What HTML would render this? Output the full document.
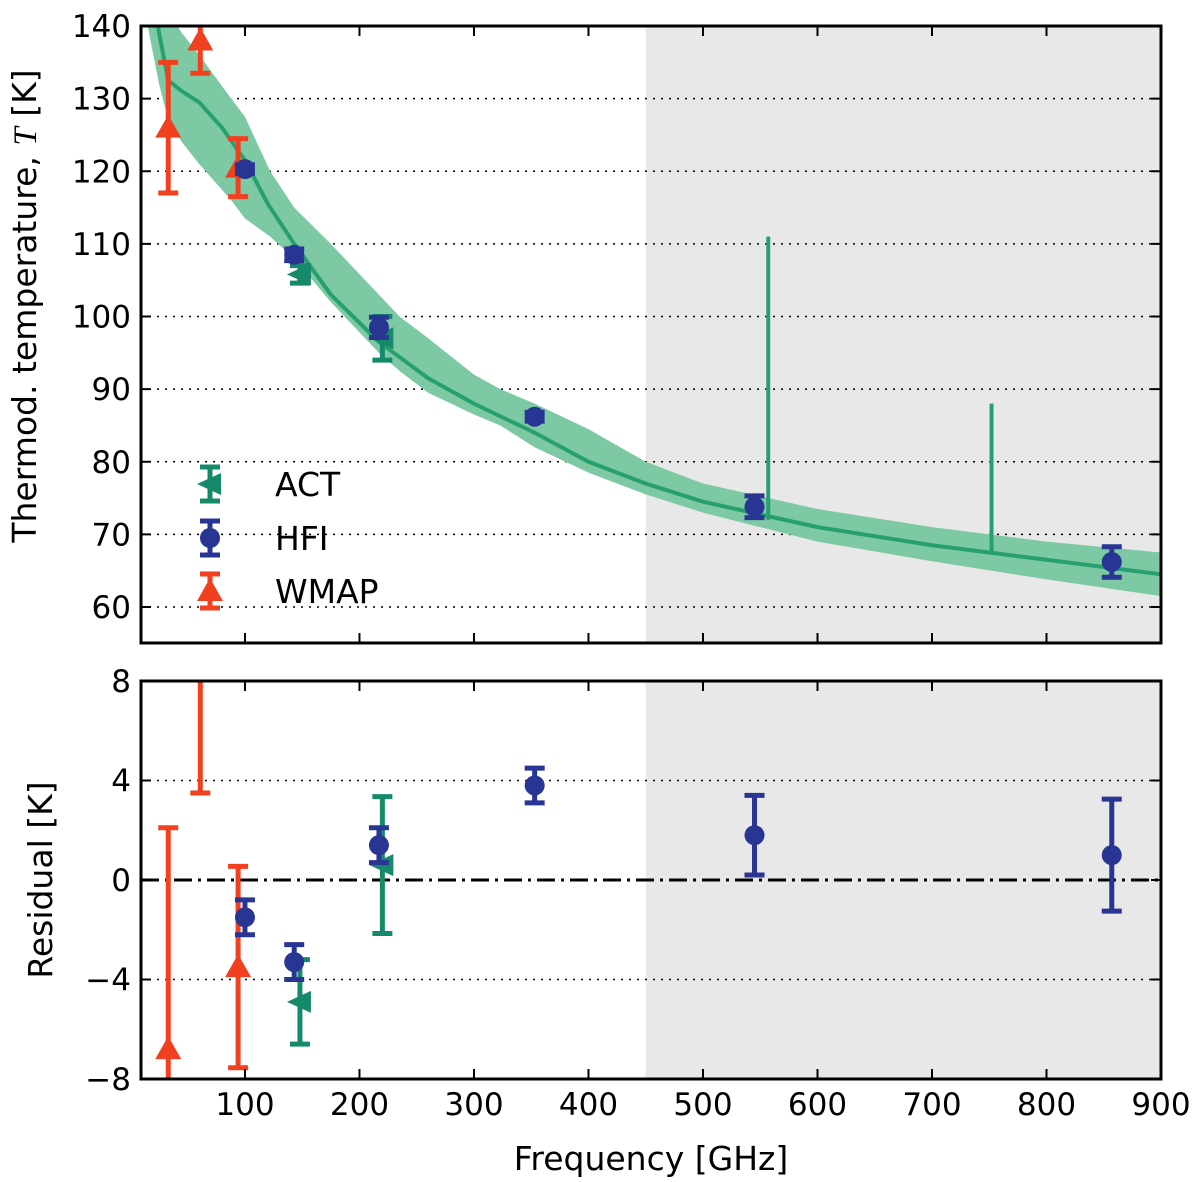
<!DOCTYPE html>
<html><head><meta charset="utf-8"><style>
html,body{margin:0;background:#fff;overflow:hidden;width:1200px;height:1182px}
svg{display:block;font-family:"DejaVu Sans","Liberation Sans",sans-serif}
</style></head><body>
<svg id="c" width="1200" height="1182" xmlns="http://www.w3.org/2000/svg"></svg>
<script>
const modelF=[15,25,33,45,60,80,100,120,143,175,217,260,300,353,400,450,500,600,700,800,900];
const modelT=[150,139,132.5,131,129.5,126,121.5,115.5,110,103,96.5,91.5,88,84,80,77,74.5,71,68.5,66.5,64.5];
const bandF=[15,25,33,45,60,88,100,122,143,175,217,235,260,300,323,353,400,450,500,600,700,800,900];
const bandHi=[152,146,142,139,136,130,127.5,120,115,110,103,100,97,92,90,88,84.5,80,77,73.5,71,69,67.5];
const bandLo=[140,132,127,124,121,116,113.5,111,108,102,95,92.5,89.5,86.5,85,82,78.5,75.5,73,69,66.3,63.8,61.5];
const spikeF=[557,752];const spikeT=[111,88];
const wmapF=[33,61,94];const wmapT=[126,138,120.5];const wmapE=[9,4.5,4];
const wmapR=[-6.8,12,-3.5];const wmapRE=[8.9,8.5,4.05];
const hfiF=[100,143,217,353,545,857];const hfiT=[120.3,108.5,98.5,86.2,73.8,66.2];const hfiE=[0.6,0.8,1.4,0.6,1.5,2.1];
const hfiR=[-1.5,-3.3,1.4,3.8,1.8,1.0];const hfiRE=[0.7,0.7,0.7,0.7,1.6,2.25];
const actF=[148,220];const actT=[105.8,97];const actE=[1.2,3];
const actR=[-4.9,0.6];const actRE=[1.7,2.75];
const xTicks=[100,200,300,400,500,600,700,800,900];
const yTicksTop=[60,70,80,90,100,110,120,130,140];
const yTicksBot=[-8,-4,0,4,8];
const yTicksBotLbl=["\u22128","\u22124","0","4","8"];

const svg=document.getElementById('c');const NS='http://www.w3.org/2000/svg';
function el(t,a,p){const e=document.createElementNS(NS,t);for(const k in a)e.setAttribute(k,a[k]);(p||svg).appendChild(e);return e;}
const L=141,R=1161,T1=26,B1=643,T2=681,B2=1079;
const X=f=>L+(f-9.2)*(R-L)/(900-9.2);
const Y1=v=>T1+(140-v)*(607-26)/80;
const Y2=v=>T2+(8-v)*(B2-T2)/16;
const defs=el('defs',{});
const cp1=el('clipPath',{id:'cp1'},defs);el('rect',{x:L,y:T1,width:R-L,height:B1-T1},cp1);
const cp2=el('clipPath',{id:'cp2'},defs);el('rect',{x:L,y:T2,width:R-L,height:B2-T2},cp2);
const RED='#f0401f',BLUE='#283593',GREEN='#16896a';

function panel(T,B,cp,name){
  const g=el('g',{'clip-path':'url(#'+cp+')'});
  let s=el('rect',{x:X(450),y:T,width:R-X(450),height:B-T,fill:'#e8e8e8'},g);
  
  
  return g;
}
const g1=panel(T1,B1,'cp1','top');const g2=panel(T2,B2,'cp2','bottom');
yTicksTop.forEach(v=>{if(v<140){const l=el('line',{x1:L,x2:R,y1:Y1(v),y2:Y1(v),stroke:'#000','stroke-width':1.5,'stroke-dasharray':'2,6'},g1);}});
yTicksBot.forEach(v=>{if(v!=0&&Math.abs(v)<8){const l=el('line',{x1:L,x2:R,y1:Y2(v),y2:Y2(v),stroke:'#000','stroke-width':1.5,'stroke-dasharray':'2,6'},g2);}});
let z=el('line',{x1:L,x2:R,y1:Y2(0),y2:Y2(0),stroke:'#000','stroke-width':3,'stroke-dasharray':'18,6,3,6'},g2);

let d='M'+bandF.map((f,i)=>X(f)+','+Y1(bandHi[i])).join('L');
for(let i=bandF.length-1;i>=0;i--)d+='L'+X(bandF[i])+','+Y1(bandLo[i]);
let band=el('path',{d:d+'Z',fill:'#7cc9a4'},g1);

let ml=el('path',{d:'M'+modelF.map((f,i)=>X(f)+','+Y1(modelT[i])).join('L'),fill:'none',stroke:'#27a06f','stroke-width':4,'stroke-linejoin':'round'},g1);

spikeF.forEach((f,i)=>{let base=modelT[modelF.findIndex(q=>q>f)]+1;
  let s=el('line',{x1:X(f),x2:X(f),y1:Y1(base),y2:Y1(spikeT[i]),stroke:'#27a06f','stroke-width':4},g1);
  });
function eb(g,x,y0,y1,c){
  el('line',{x1:x,x2:x,y1:y0,y2:y1,stroke:c,'stroke-width':5},g);
  el('line',{x1:x-10,x2:x+10,y1:y0,y2:y0,stroke:c,'stroke-width':5},g);
  el('line',{x1:x-10,x2:x+10,y1:y1,y2:y1,stroke:c,'stroke-width':5},g);
}
function marker(g,kind,x,y,c){
  if(kind=='tri')return el('path',{d:`M${x},${y-13}L${x+13},${y+10}L${x-13},${y+10}Z`,fill:c},g);
  if(kind=='circ')return el('circle',{cx:x,cy:y,r:10,fill:c},g);
  return el('path',{d:`M${x-13},${y}L${x+11},${y-11}L${x+11},${y+11}Z`,fill:c},g);
}
function series(g,F,V,E,Yf,c,kind,name){
  F.forEach((f,i)=>{const gg=el('g',{},g);
    
    
    eb(gg,X(f),Yf(V[i]+E[i]),Yf(V[i]-E[i]),c);marker(gg,kind,X(f),Yf(V[i]),c);});
}
series(g1,wmapF,wmapT,wmapE,Y1,RED,'tri','wmap');
series(g1,actF,actT,actE,Y1,GREEN,'act','act');
series(g1,hfiF,hfiT,hfiE,Y1,BLUE,'circ','hfi');
series(g2,wmapF,wmapR,wmapRE,Y2,RED,'tri','wmap-residual');
series(g2,actF,actR,actRE,Y2,GREEN,'act','act-residual');
series(g2,hfiF,hfiR,hfiRE,Y2,BLUE,'circ','hfi-residual');
[[T1,B1,'top'],[T2,B2,'bottom']].forEach(([T,B,n])=>{let r=el('rect',{x:L,y:T,width:R-L,height:B-T,fill:'none',stroke:'#000','stroke-width':3});
 
 xTicks.forEach(f=>{el('line',{x1:X(f),x2:X(f),y1:B,y2:B-10,stroke:'#000','stroke-width':2});el('line',{x1:X(f),x2:X(f),y1:T,y2:T+10,stroke:'#000','stroke-width':2});});});
yTicksTop.forEach(v=>{el('line',{x1:L,x2:L+10,y1:Y1(v),y2:Y1(v),stroke:'#000','stroke-width':2});el('line',{x1:R,x2:R-10,y1:Y1(v),y2:Y1(v),stroke:'#000','stroke-width':2});
 let t=el('text',{x:L-10,y:Y1(v)+11,'text-anchor':'end','font-size':31});t.textContent=v;
 });
yTicksBot.forEach((v,i)=>{el('line',{x1:L,x2:L+10,y1:Y2(v),y2:Y2(v),stroke:'#000','stroke-width':2});el('line',{x1:R,x2:R-10,y1:Y2(v),y2:Y2(v),stroke:'#000','stroke-width':2});
 let t=el('text',{x:L-10,y:Y2(v)+11,'text-anchor':'end','font-size':31});t.textContent=yTicksBotLbl[i];
 });
xTicks.forEach(f=>{let t=el('text',{x:X(f),y:B2+36,'text-anchor':'middle','font-size':31});t.textContent=f;
 });
let xl=el('text',{x:651,y:1170,'text-anchor':'middle','font-size':33});xl.textContent='Frequency [GHz]';

let yl=el('text',{x:0,y:0,'text-anchor':'middle','font-size':33,transform:'translate(36,306) rotate(-90)'});
yl.innerHTML='Thermod. temperature, <tspan font-family="Liberation Serif" font-style="italic">T</tspan> [K]';

let rl=el('text',{x:0,y:0,'text-anchor':'middle','font-size':33,transform:'translate(52,880) rotate(-90)'});rl.textContent='Residual [K]';

[['ACT',GREEN,'act',484],['HFI',BLUE,'circ',538],['WMAP',RED,'tri',591]].forEach(([n,c,k,y])=>{
 const g=el('g',{});
 eb(g,210,y-17,y+17,c);marker(g,k,210,y,c);
 let t=el('text',{x:275,y:y+12,'font-size':33},g);t.textContent=n;});
</script>
</body></html>
